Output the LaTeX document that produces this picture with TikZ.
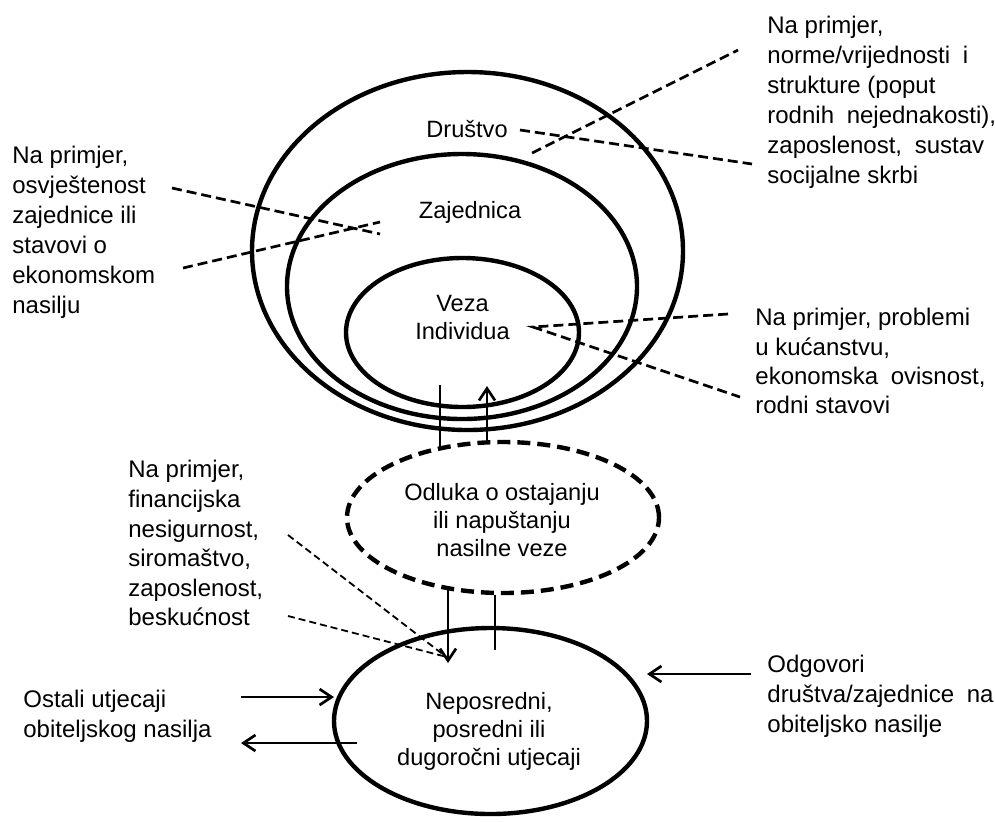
\documentclass[tikz,border=0pt]{standalone}
\usepackage{fontspec}
\setmainfont{Liberation Sans}
\usetikzlibrary{shapes.geometric,arrows.meta}
\newcommand\wsp{\hspace{3pt}}
\begin{document}
\begin{tikzpicture}[x=0.5pt,y=-0.5pt,
  ring/.style={draw,ellipse,line width=2.2pt,inner sep=0pt,outer sep=0pt},
  dashring/.style={ring,dash pattern=on 6.5pt off 3.5pt},
  lbl/.style={inner sep=0pt,align=center,font=\fontsize{11.8}{14}\selectfont},
  side/.style={inner sep=0pt,align=left,anchor=north west,font=\fontsize{12}{15}\selectfont},
  lead/.style={line width=1.35pt,dash pattern=on 5pt off 2.5pt},
  thinlead/.style={line width=0.9pt,dash pattern=on 3.5pt off 2pt},
  link/.style={line width=1.35pt},
  arr/.style={link,-{Straight Barb[length=6pt,width=8pt]}}]
\useasboundingbox (0,0) rectangle (995,821);
% rings
\node[ring,minimum width=215.5pt,minimum height=179pt] (soc) at (467.5,251) {};
\node[ring,minimum width=175pt,minimum height=132.5pt] (com) at (462,286.5) {};
\node[ring,minimum width=116.5pt,minimum height=74.5pt] (rel) at (462.5,332.5) {};
\node[dashring,minimum width=156pt,minimum height=75.5pt] (dec) at (503,517.5) {};
\node[ring,minimum width=156.5pt,minimum height=93pt] (imp) at (490.5,721) {};
% ring labels
\node[lbl,anchor=base] (tsoc) at (467,137) {Društvo};
\node[lbl,anchor=base] (tcom) at (470,218) {Zajednica};
\node[lbl,anchor=north] (trel) at (462.5,295) {Veza\\Individua};
\node[lbl,anchor=north] (tdec) at (502,483) {Odluka o ostajanju\\ili napuštanju\\nasilne veze};
\node[lbl,anchor=north] (timp) at (489,692) {Neposredni,\\posredni ili\\dugoročni utjecaji};
% side texts
\node[side] (s1) at (767,16) {Na primjer,\\norme/vrijednosti \wsp i\\strukture (poput\\rodnih \wsp nejednakosti),\\zaposlenost, \wsp sustav\\socijalne skrbi};
\node[side] (s2) at (12,146) {Na primjer,\\osvještenost\\zajednice ili\\stavovi o\\ekonomskom\\nasilju};
\node[side,font=\fontsize{12}{14.6}\selectfont] (s3) at (755,308) {Na primjer, problemi\\u kućanstvu,\\ekonomska \wsp ovisnost,\\rodni stavovi};
\node[side,font=\fontsize{12}{14.8}\selectfont] (s4) at (128,460) {Na primjer,\\financijska\\nesigurnost,\\siromaštvo,\\zaposlenost,\\beskućnost};
\node[side] (s5) at (23,690) {Ostali utjecaji\\obiteljskog nasilja};
\node[side] (s6) at (767,655) {Odgovori\\društva/zajednice \wsp na\\obiteljsko nasilje};
% connector end points
\coordinate (c1a) at (520,130); \coordinate (c1b) at (752,164);
\coordinate (c2a) at (532,153); \coordinate (c2b) at (738,50);
\coordinate (c3a) at (172,188); \coordinate (c3b) at (380,234);
\coordinate (c4a) at (183,268); \coordinate (c4b) at (380,222);
\coordinate (c5a) at (533,327); \coordinate (c5b) at (728,314);
\coordinate (c6b) at (740,397);
\coordinate (c7a) at (288,535); \coordinate (c7b) at (449,659);
\coordinate (c8a) at (288,616); \coordinate (c8b) at (447,657);
\coordinate (a1a) at (440,385); \coordinate (a1b) at (440,448);
\coordinate (a2a) at (487,443); \coordinate (a2b) at (487,386);
\coordinate (a3a) at (448,590); \coordinate (a3b) at (448,663);
\coordinate (a4a) at (495,595); \coordinate (a4b) at (495,650);
\coordinate (a5a) at (241,697); \coordinate (a5b) at (334,697);
\coordinate (a6a) at (357,743); \coordinate (a6b) at (241,743);
\coordinate (a7a) at (751,674); \coordinate (a7b) at (647,674);
% dashed leads
\draw[lead] (c1a) -- (c1b);
\draw[lead] (c2a) -- (c2b);
\draw[lead] (c3a) -- (c3b);
\draw[lead] (c4a) -- (c4b);
\draw[lead] (c5b) -- (c5a) -- (c6b);
\draw[thinlead] (c7a) -- (c7b);
\draw[thinlead] (c8a) -- (c8b);
% arrows
\draw[link] (a1a) -- (a1b);
\draw[arr] (a2a) -- (a2b);
\draw[arr] (a3a) -- (a3b);
\draw[link] (a4a) -- (a4b);
\draw[arr] (a5a) -- (a5b);
\draw[arr] (a6a) -- (a6b);
\draw[arr] (a7a) -- (a7b);
\end{tikzpicture}
\end{document}
